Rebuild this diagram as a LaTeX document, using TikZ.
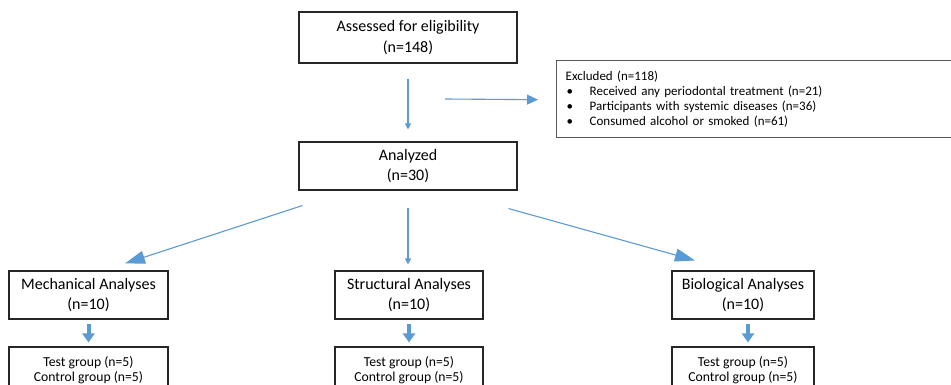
\documentclass[tikz,border=0pt]{standalone}
\usepackage{fontspec}
\setmainfont{Carlito}
\usetikzlibrary{arrows.meta,calc}
\definecolor{arrowblue}{HTML}{5B9BD5}
\definecolor{boxline}{HTML}{262626}
\definecolor{exline}{HTML}{595959}
\begin{document}
\begin{tikzpicture}[x=1pt,y=-1pt,
  mainbox/.style={draw=boxline, line width=1.1pt, inner sep=0pt, align=center, font=\fontsize{16}{20.5}\selectfont},
  groupbox/.style={draw=boxline, line width=1.1pt, inner sep=0pt, align=center, font=\fontsize{13.7}{15}\selectfont},
  exbox/.style={draw=exline, line width=1.4pt, inner xsep=9pt, inner ysep=0pt, align=left, font=\fontsize{13}{15}\selectfont},
  thinarrow/.style={draw=arrowblue, line width=1.1pt},
  fatarrow/.style={draw=arrowblue, line width=4pt, -{Triangle[length=9pt,width=12pt]}}
]
\useasboundingbox (0,0) rectangle (951,385);
\fill[white] (0,0) rectangle (951,385);

\node[mainbox, minimum width=218, minimum height=51] (assess) at (408,37.5) {Assessed for eligibility\\(n=148)};
\node[mainbox, minimum width=218, minimum height=48] (ana) at (408,166) {Analyzed\\(n=30)};
\node[exbox, anchor=north west, text width=412pt, minimum height=77] (excl) at (556,60)
  {Excluded (n=118)\\
   \makebox[24pt][l]{\hspace{1pt}•}Received any periodontal treatment (n=21)\\
   \makebox[24pt][l]{\hspace{1pt}•}Participants with systemic diseases (n=36)\\
   \makebox[24pt][l]{\hspace{1pt}•}Consumed alcohol or smoked (n=61)};

\node[mainbox, minimum width=159, minimum height=48] (mech) at (88.5,295) {Mechanical Analyses\\(n=10)};
\node[mainbox, minimum width=148, minimum height=48] (struc) at (409,295) {Structural Analyses\\(n=10)};
\node[mainbox, minimum width=142, minimum height=48] (bio) at (743,295) {Biological Analyses\\(n=10)};

\node[groupbox, minimum width=159, minimum height=46] (testm) at (88.5,370) {Test group (n=5)\\Control group (n=5)};
\node[groupbox, minimum width=148, minimum height=46] (tests) at (409,370) {Test group (n=5)\\Control group (n=5)};
\node[groupbox, minimum width=142, minimum height=46] (testb) at (743,370) {Test group (n=5)\\Control group (n=5)};

\coordinate (split) at (445,99);

\draw[thinarrow, -{Triangle[length=6pt,width=6pt]}] ($(assess.south)+(0,15)$) -- ($(ana.north)+(0,-12)$);
\draw[thinarrow, -{Triangle[length=11pt,width=10pt]}] (split) -- ($(excl.west)+(-18,0.5)$);

\draw[thinarrow, -{Triangle[length=20pt,width=13pt]}] ($(ana.south west)+(4,15)$) -- ($(mech.north)+(36.5,-7)$);
\draw[thinarrow, -{Triangle[length=6pt,width=6pt]}] ($(ana.south)+(0,17)$) -- ($(struc.north)+(-1,-6)$);
\draw[thinarrow, -{Triangle[length=20pt,width=13pt]}] ($(ana.south east)+(-9,18)$) -- ($(bio.north)+(-48,-10)$);

\draw[fatarrow] ($(mech.south)+(0,4)$) -- ($(testm.north)+(0,-4)$);
\draw[fatarrow] ($(struc.south)+(0,4)$) -- ($(tests.north)+(0,-4)$);
\draw[fatarrow] ($(bio.south)+(5,4)$) -- ($(testb.north)+(5,-4)$);
\end{tikzpicture}
\end{document}
